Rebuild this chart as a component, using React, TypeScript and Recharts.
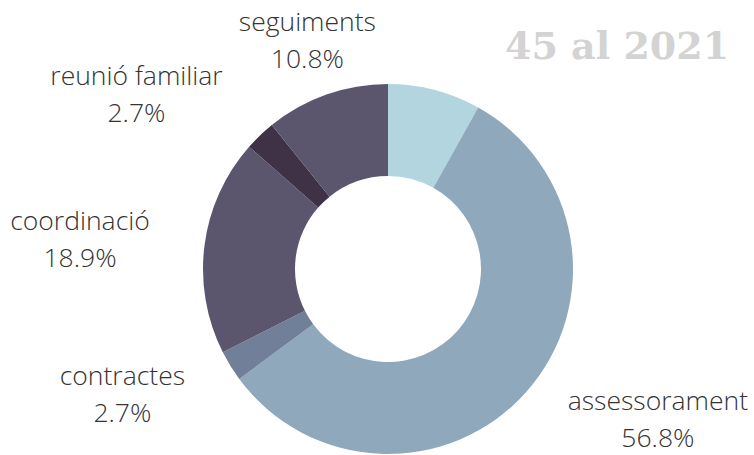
import { Cell, Pie, PieChart } from "recharts"

// share of the 37 actions, clockwise from the top
const categories = ["altres", "assessorament", "contractes", "coordinació", "reunió familiar", "seguiments"]
const values = [3, 21, 1, 7, 1, 4]
const shareLabels = ["", "56.8%", "2.7%", "18.9%", "2.7%", "10.8%"]
const title = "45 al 2021"

const colors = ["#b2d5e0", "#8fa8bb", "#717f98", "#5b566e", "#3f3246", "#5b566e"]

// label nudges from the radial anchor point
const labelNudge: Record<string, [number, number]> = {
  seguiments: [1, 3],
  "reunió familiar": [-82, 3],
  coordinació: [-65, 2],
  contractes: [-57, -2],
  assessorament: [86, -11],
}

const data = categories.map((name, i) => ({ name, value: values[i], share: shareLabels[i] }))

const RADIAN = Math.PI / 180

const renderLabel = (props: any) => {
  const { cx, cy, midAngle, outerRadius, payload } = props
  if (!payload.share) return null
  const r = outerRadius + 60
  const [dx, dy] = labelNudge[payload.name] || [0, 0]
  const x = cx + r * Math.cos(-midAngle * RADIAN) + dx
  const y = cy + r * Math.sin(-midAngle * RADIAN) + dy
  return (
    <text
      x={x}
      y={y}
      textAnchor="middle"
      fill="#333333"
      fontFamily="'Open Sans', sans-serif"
      fontWeight={300}
      fontSize={26.5}
    >
      <tspan x={x} dy={-10}>{payload.name}</tspan>
      <tspan x={x} dy={37}>{payload.share}</tspan>
    </text>
  )
}

export default function App() {
  return (
    <div style={{ position: "absolute", left: 0, top: 0, width: 754, height: 455, background: "#fff" }}>
      <PieChart width={754} height={455} margin={{ top: 0, right: 0, bottom: 0, left: 0 }}>
        <Pie
          data={data}
          dataKey="value"
          nameKey="name"
          cx={388}
          cy={269}
          outerRadius={185}
          innerRadius={93}
          startAngle={90}
          endAngle={-270}
          stroke="none"
          label={renderLabel}
          labelLine={false}
          isAnimationActive={false}
        >
          {data.map((entry, index) => (
            <Cell key={`cell-${index}`} fill={colors[index]} />
          ))}
        </Pie>
      </PieChart>
      <div
        style={{
          position: "absolute",
          left: 505,
          top: 24,
          fontFamily: "'DejaVu Serif', serif",
          fontWeight: 700,
          fontSize: 38,
          color: "#d3d3d3",
          lineHeight: "44px",
          whiteSpace: "nowrap",
        }}
      >
        {title}
      </div>
    </div>
  )
}
